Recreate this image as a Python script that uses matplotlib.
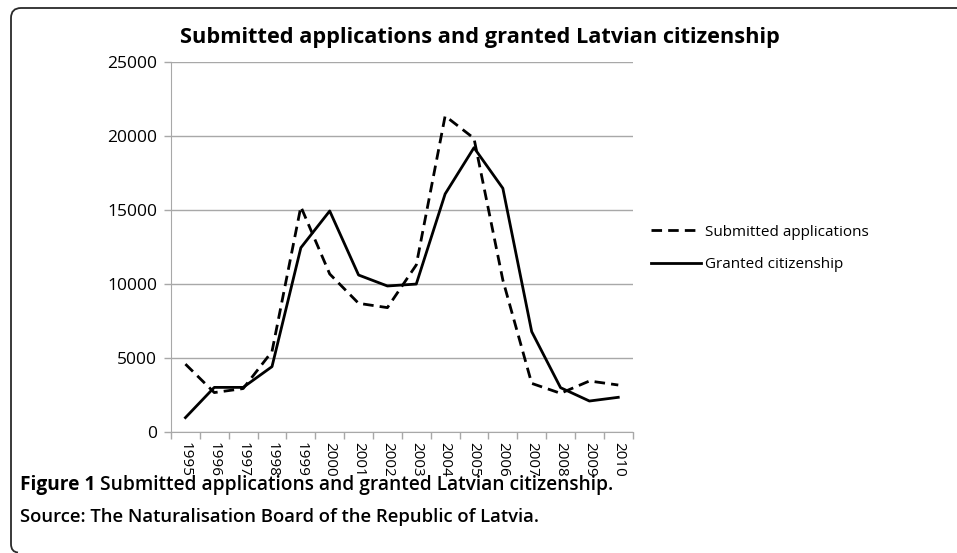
import matplotlib
matplotlib.use("Agg")
import matplotlib.pyplot as plt
from matplotlib.patches import PathPatch
from matplotlib.path import Path
from matplotlib.transforms import IdentityTransform
import numpy as np

years = ["1995", "1996", "1997", "1998", "1999", "2000", "2001", "2002",
         "2003", "2004", "2005", "2006", "2007", "2008", "2009", "2010"]
submitted = [4600, 2680, 2950, 5450, 15220, 10680, 8700, 8410,
             11290, 21340, 19830, 10270, 3300, 2630, 3460, 3190]
granted = [990, 3030, 3030, 4430, 12450, 14930, 10610, 9870,
           10000, 16080, 19200, 16460, 6790, 3010, 2110, 2360]
yticks = [0, 5000, 10000, 15000, 20000, 25000]

title = "Submitted applications and granted Latvian citizenship"
caption_bold = "Figure 1"
caption_rest = " Submitted applications and granted Latvian citizenship."
caption_line2 = "Source: The Naturalisation Board of the Republic of Latvia."

plt.rcParams['font.family'] = ['Open Sans', 'DejaVu Sans']

fig = plt.figure(figsize=(9.57, 5.53), dpi=100)
W, H = 957, 553

# border: left and top edges with rounded corners (display pixel coords, origin bottom-left)
top_y = H - 8
left_x = 11
verts = [(W + 2, top_y), (left_x + 10, top_y), (left_x, top_y), (left_x, top_y - 10),
         (left_x, 9), (left_x, 1), (left_x + 7, 0.5)]
codes = [Path.MOVETO, Path.LINETO, Path.CURVE3, Path.CURVE3,
         Path.LINETO, Path.CURVE3, Path.CURVE3]
border = PathPatch(Path(verts, codes), transform=IdentityTransform(), fill=False,
                   edgecolor="#2a2a2a", linewidth=1.3, clip_on=False)
fig.patches.append(border)

ax = fig.add_axes([171 / W, 1 - 432.3 / H, (632.7 - 171) / W, (432.3 - 61.7) / H])
x = np.arange(len(years))
ax.plot(x, submitted, color="black", linewidth=2.0, linestyle=(0, (3.8, 2.2)),
        label="Submitted applications")
ax.plot(x, granted, color="black", linewidth=2.0, label="Granted citizenship")

ax.set_xlim(-0.5, len(years) - 0.5)
ax.set_ylim(0, 25000)
ax.set_yticks(yticks)
ax.set_yticklabels([str(v) for v in yticks], fontsize=12.5)
ax.yaxis.grid(True, color="#a8a8a8", linewidth=1.0)
ax.set_axisbelow(True)

ax.set_xticks(x)
ax.set_xticklabels(years, rotation=-90, fontsize=11, va="top")
ax.tick_params(axis="x", which="major", length=0, pad=7)
ax.set_xticks(np.arange(-0.5, len(years), 1.0), minor=True)
ax.tick_params(axis="x", which="minor", length=5, color="#a8a8a8", width=1.0)
ax.tick_params(axis="y", length=5, color="#a8a8a8", width=1.0, pad=5)

for s in ["top", "right"]:
    ax.spines[s].set_visible(False)
ax.spines["left"].set_color("#a8a8a8")
ax.spines["bottom"].set_color("#a8a8a8")

fig.text(480 / W, 1 - 37 / H, title, ha="center", va="center",
         fontsize=15.7, fontweight="bold")

fig.legend(loc="upper left", bbox_to_anchor=(637 / W, 1 - 211 / H),
           frameon=False, fontsize=11, handlelength=3.3, handletextpad=0.25,
           labelspacing=1.15)

t1 = fig.text(20 / W, 1 - 485 / H, caption_bold, ha="left", va="center",
              fontsize=13.8, fontweight="bold")
fig.canvas.draw()
bb = t1.get_window_extent()
fig.text(bb.x1 / W, 1 - 485 / H, caption_rest, ha="left", va="center",
         fontsize=13.8, fontweight="semibold")
fig.text(20 / W, 1 - 517 / H, caption_line2, ha="left", va="center",
         fontsize=13.3, fontweight="semibold")

fig.savefig("out.png", dpi=100)
